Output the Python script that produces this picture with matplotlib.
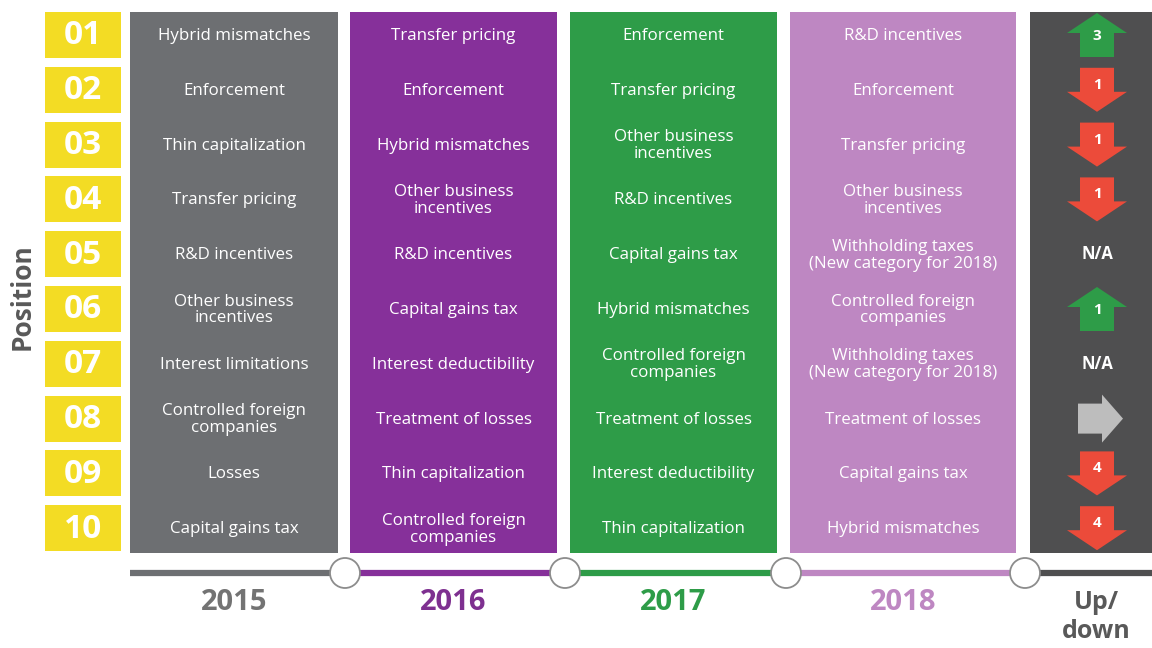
import matplotlib
matplotlib.use("Agg")
import matplotlib.pyplot as plt
from matplotlib.patches import Rectangle, Polygon, Circle

# --- Data ---
positions = ["01", "02", "03", "04", "05", "06", "07", "08", "09", "10"]
years = ["2015", "2016", "2017", "2018"]

issues_2015 = ["Hybrid mismatches", "Enforcement", "Thin capitalization", "Transfer pricing",
               "R&D incentives", "Other business\nincentives", "Interest limitations",
               "Controlled foreign\ncompanies", "Losses", "Capital gains tax"]
issues_2016 = ["Transfer pricing", "Enforcement", "Hybrid mismatches", "Other business\nincentives",
               "R&D incentives", "Capital gains tax", "Interest deductibility",
               "Treatment of losses", "Thin capitalization", "Controlled foreign\ncompanies"]
issues_2017 = ["Enforcement", "Transfer pricing", "Other business\nincentives", "R&D incentives",
               "Capital gains tax", "Hybrid mismatches", "Controlled foreign\ncompanies",
               "Treatment of losses", "Interest deductibility", "Thin capitalization"]
issues_2018 = ["R&D incentives", "Enforcement", "Transfer pricing", "Other business\nincentives",
               "Withholding taxes\n(New category for 2018)", "Controlled foreign\ncompanies",
               "Withholding taxes\n(New category for 2018)", "Treatment of losses",
               "Capital gains tax", "Hybrid mismatches"]

move_dir = ["up", "down", "down", "down", "na", "up", "na", "same", "down", "down"]
move_size = ["3", "1", "1", "1", "", "1", "", "", "4", "4"]

# --- Styles ---
YELLOW = "#F3DC24"
col_colors = ["#6D6F72", "#86309A", "#2E9C48", "#BE87C2"]
year_colors = ["#737373", "#7E3090", "#2E9C48", "#BE87C2"]
UPDOWN_BG = "#4F4F50"
RED = "#EC4B3A"
GREEN = "#2E9C48"
GREY_ARROW = "#BDBDBD"
TEXT_FONT = ["Open Sans", "DejaVu Sans"]

# column geometry in pixel units (x0, x1)
col_x = [(130, 338), (350, 557), (570, 777), (790, 1016)]
updown_x = (1030, 1152)
top, bottom = 12, 553
row0, pitch = 35, 54.8

fig = plt.figure(figsize=(11.52, 6.48), dpi=100)
ax = fig.add_axes([0, 0, 1, 1])
ax.set_xlim(0, 1152)
ax.set_ylim(648, 0)
ax.axis("off")

# --- Position boxes ---
for i, p in enumerate(positions):
    yc = row0 + i * pitch
    ax.add_patch(Rectangle((45, yc - 23), 76, 46, color=YELLOW, lw=0))
    ax.text(83, yc + 1, p, ha="center", va="center", color="white",
            fontsize=24, fontweight="bold", family=TEXT_FONT)

ax.text(22, 297, "Position", rotation=90, ha="center", va="center",
        color="#595959", fontsize=19, fontweight="bold", family=TEXT_FONT)

# --- Year columns ---
for (x0, x1), c, issues in zip(col_x, col_colors,
                               [issues_2015, issues_2016, issues_2017, issues_2018]):
    ax.add_patch(Rectangle((x0, top), x1 - x0, bottom - top, color=c, lw=0))
    for i, txt in enumerate(issues):
        yc = row0 + i * pitch
        ax.text((x0 + x1) / 2, yc + 1, txt, ha="center", va="center", color="white",
                fontsize=12.2, family=TEXT_FONT, linespacing=1.05)

# --- Up/down column ---
ax.add_patch(Rectangle((updown_x[0], top), updown_x[1] - updown_x[0], bottom - top,
                       color=UPDOWN_BG, lw=0))
xc = 1097
for i, (d, n) in enumerate(zip(move_dir, move_size)):
    yc = row0 + i * pitch
    if d == "up":
        pts = [(xc, yc - 22), (xc + 30, yc - 2), (xc + 17, yc - 2), (xc + 17, yc + 22),
               (xc - 17, yc + 22), (xc - 17, yc - 2), (xc - 30, yc - 2)]
        ax.add_patch(Polygon(pts, closed=True, color=GREEN, lw=0))
        ax.text(xc, yc + 1, n, ha="center", va="center", color="white",
                fontsize=11, fontweight="bold", family=TEXT_FONT)
    elif d == "down":
        pts = [(xc, yc + 22), (xc + 30, yc + 2), (xc + 17, yc + 2), (xc + 17, yc - 22),
               (xc - 17, yc - 22), (xc - 17, yc + 2), (xc - 30, yc + 2)]
        ax.add_patch(Polygon(pts, closed=True, color=RED, lw=0))
        ax.text(xc, yc - 5, n, ha="center", va="center", color="white",
                fontsize=11, fontweight="bold", family=TEXT_FONT)
    elif d == "same":
        pts = [(xc + 26, yc), (xc + 5, yc + 24), (xc + 5, yc + 15), (xc - 19, yc + 15),
               (xc - 19, yc - 15), (xc + 5, yc - 15), (xc + 5, yc - 24)]
        ax.add_patch(Polygon(pts, closed=True, color=GREY_ARROW, lw=0))
    else:
        ax.text(xc, yc, "N/A", ha="center", va="center", color="white",
                fontsize=12, fontweight="bold", family=TEXT_FONT)

# --- Timeline ---
line_y = 573
nodes = [345, 565, 786, 1025]
seg_starts = [130] + nodes
seg_ends = nodes + [1152]
seg_colors = col_colors + [UPDOWN_BG]
for s, e, c in zip(seg_starts, seg_ends, seg_colors):
    ax.plot([s, e], [line_y, line_y], color=c, lw=4.5, solid_capstyle="butt", zorder=2)
for n in nodes:
    ax.add_patch(Circle((n, line_y), 15, facecolor="white", edgecolor="#8C8C8C",
                        lw=1.3, zorder=3))

for (x0, x1), y, c in zip(col_x, years, year_colors):
    ax.text((x0 + x1) / 2, 602, y, ha="center", va="center", color=c,
            fontsize=21, fontweight="bold", family=TEXT_FONT)
ax.text(1096, 617, "Up/\ndown", ha="center", va="center", color="#595959",
        fontsize=18, fontweight="bold", family=TEXT_FONT, linespacing=1.25)

fig.savefig("out.png", dpi=100, facecolor="white")
